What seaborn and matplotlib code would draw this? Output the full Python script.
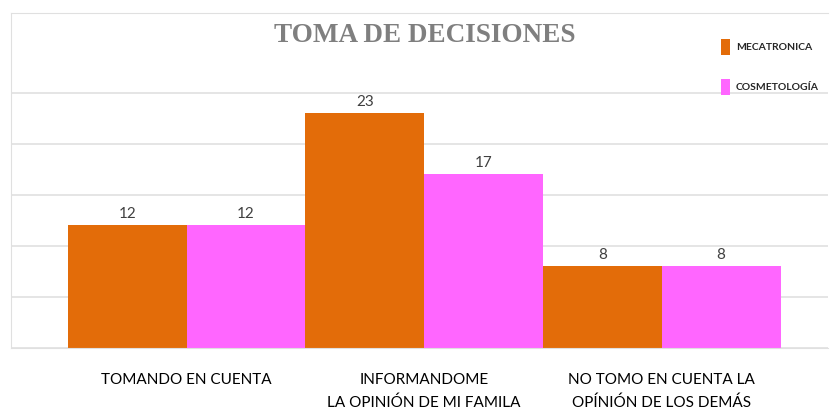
import seaborn as sns
import matplotlib.pyplot as plt
import pandas as pd

# data
categories = ["TOMANDO EN CUENTA",
              "INFORMANDOME\nLA OPINIÓN DE MI FAMILA",
              "NO TOMO EN CUENTA LA\nOPÍNIÓN DE LOS DEMÁS"]
mecatronica = [12, 23, 8]
cosmetologia = [12, 17, 8]
series_names = ["MECATRONICA", "COSMETOLOGÍA"]

df = pd.DataFrame({
    "categoria": categories * 2,
    "valor": mecatronica + cosmetologia,
    "grupo": [series_names[0]] * 3 + [series_names[1]] * 3,
})

sns.set_style("white")
plt.rcParams["font.family"] = ["Lato", "DejaVu Sans"]

fig = plt.figure(figsize=(8.32, 4.18), dpi=100)
ax = fig.add_axes([0.0132, 0.1675, 0.982, 0.8015])

sns.barplot(data=df, x="categoria", y="valor", hue="grupo",
            palette=["#E36C09", "#FF66FF"], width=1.0, gap=0,
            saturation=1, linewidth=0, ax=ax, legend=True)

for cont in ax.containers:
    ax.bar_label(cont, padding=3, fontsize=11, color="#404040")

ax.set_xlim(-0.74, 2.70)
ax.set_ylim(0, 32.8)
ax.set_yticks([0, 5, 10, 15, 20, 25])
ax.set_yticklabels([])
ax.yaxis.grid(True, color="#e0e0e0", linewidth=1.2)
ax.set_axisbelow(True)
ax.tick_params(axis="x", length=0, pad=18, labelsize=11, colors="#000000")
for lbl in ax.get_xticklabels():
    lbl.set_linespacing(1.75)
    lbl.set_verticalalignment("top")
ax.set_xlabel("")
ax.set_ylabel("")
for side in ["left", "top"]:
    ax.spines[side].set_color("#e0e0e0")
ax.spines["right"].set_visible(False)
ax.spines["bottom"].set_color("#e0e0e0")

fig.text(0.511, 0.915, "TOMA DE DECISIONES", ha="center", va="center",
         fontsize=19.5, fontweight="bold", color="#7f7f7f",
         family=["Liberation Serif", "DejaVu Serif"])

leg = ax.legend(loc="upper right", bbox_to_anchor=(1.0, 0.95), frameon=False,
                prop={"size": 7.5, "weight": "bold"}, handlelength=0.9,
                handleheight=2.0, handletextpad=0.5, labelspacing=2.3)
for t in leg.get_texts():
    t.set_color("#262626")

fig.savefig("out.png", dpi=100)
